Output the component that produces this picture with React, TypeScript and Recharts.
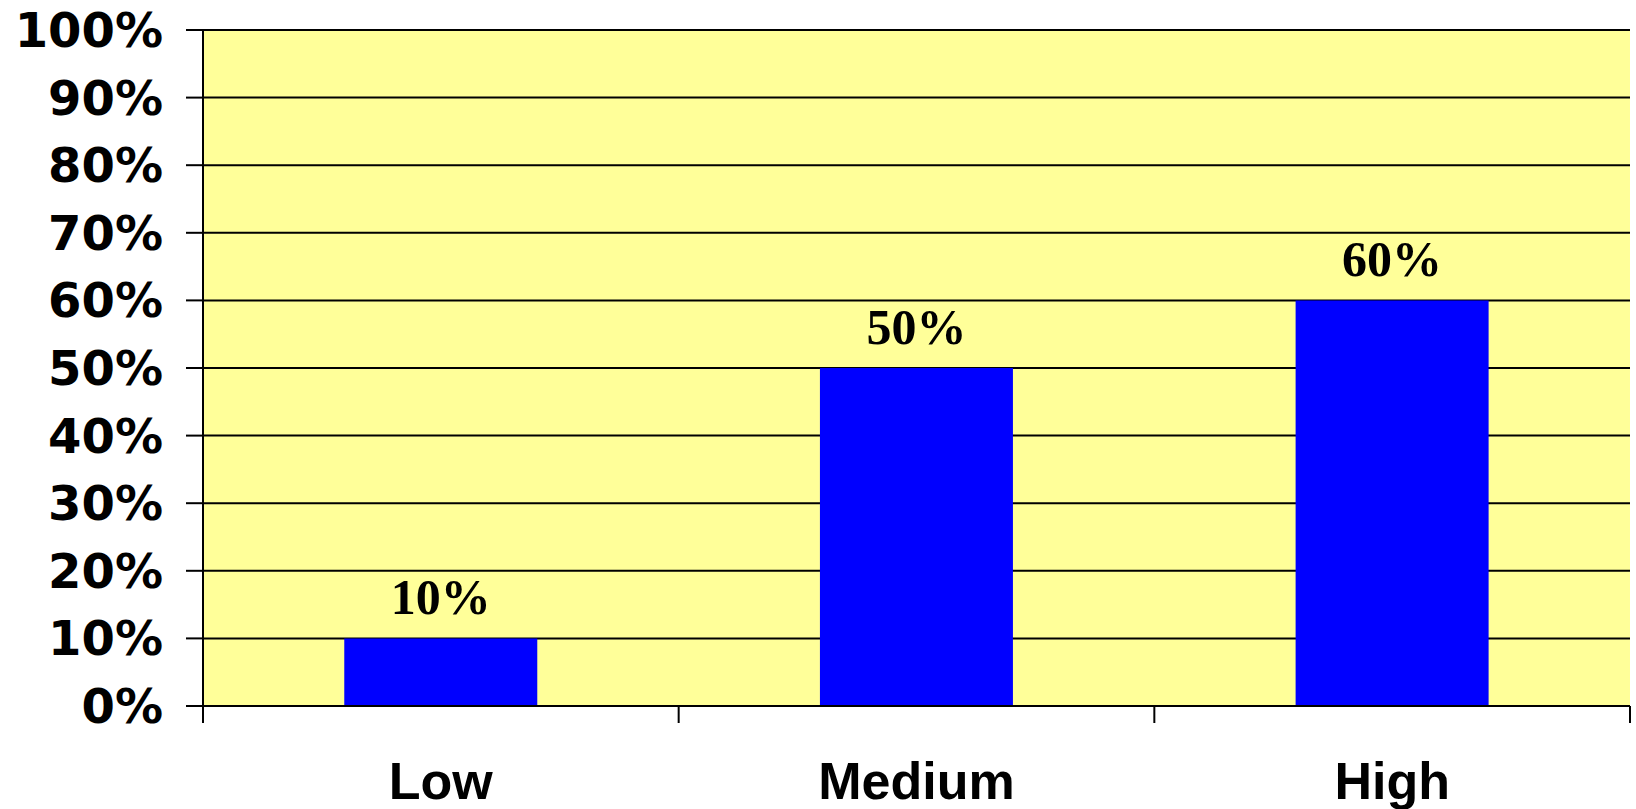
import { Bar, BarChart, CartesianGrid, LabelList, XAxis, YAxis } from "recharts";

const categories = ["Low", "Medium", "High"];
const shares = [10, 50, 60];
const yTicks = [0, 10, 20, 30, 40, 50, 60, 70, 80, 90, 100];

const data = categories.map((name, i) => ({ name, value: shares[i] }));

const sansBold = { fontFamily: "DejaVu Sans", fontWeight: 700, fontSize: 48, fill: "#000" };

// category label plus tick marks on the category boundaries (not centres)
function CategoryTick(props: any) {
  const { x, y, payload, index } = props;
  const half = payload.offset || 0;
  const last = index === categories.length - 1;
  return (
    <g>
      <line x1={x - half} y1={y} x2={x - half} y2={y + 17} stroke="#000" strokeWidth={2} />
      {last && <line x1={x + half} y1={y} x2={x + half} y2={y + 17} stroke="#000" strokeWidth={2} />}
      <text
        x={x}
        y={y}
        dy={93}
        textAnchor="middle"
        fontFamily="Liberation Sans"
        fontWeight={700}
        fontSize={52}
        fill="#000"
      >
        {payload.value}
      </text>
    </g>
  );
}

export default function App() {
  return (
    <div style={{ position: "absolute", left: 0, top: 0, background: "#fff" }}>
      <BarChart
        width={1636}
        height={809}
        data={data}
        margin={{ top: 30, right: 6, left: 0, bottom: 0 }}
        barCategoryGap="29.7%"
      >
        <CartesianGrid vertical={false} stroke="#000" strokeWidth={2} fill="#FFFF99" fillOpacity={1} />
        <YAxis
          width={203}
          domain={[0, 100]}
          ticks={yTicks}
          interval={0}
          tickFormatter={(v) => `${v}%`}
          tickSize={17}
          tickMargin={23}
          stroke="#000"
          strokeWidth={2}
          tick={sansBold}
        />
        <XAxis
          dataKey="name"
          height={103}
          tickLine={false}
          tickSize={0}
          tickMargin={0}
          interval={0}
          stroke="#000"
          strokeWidth={2}
          tick={<CategoryTick />}
        />
        <Bar dataKey="value" fill="#0000FF" isAnimationActive={false}>
          <LabelList
            dataKey="value"
            position="top"
            offset={24}
            formatter={(v: number) => `${v}%`}
            style={{ fontFamily: "Liberation Serif", fontWeight: 700, fontSize: 50, fill: "#000" }}
          />
        </Bar>
      </BarChart>
    </div>
  );
}
